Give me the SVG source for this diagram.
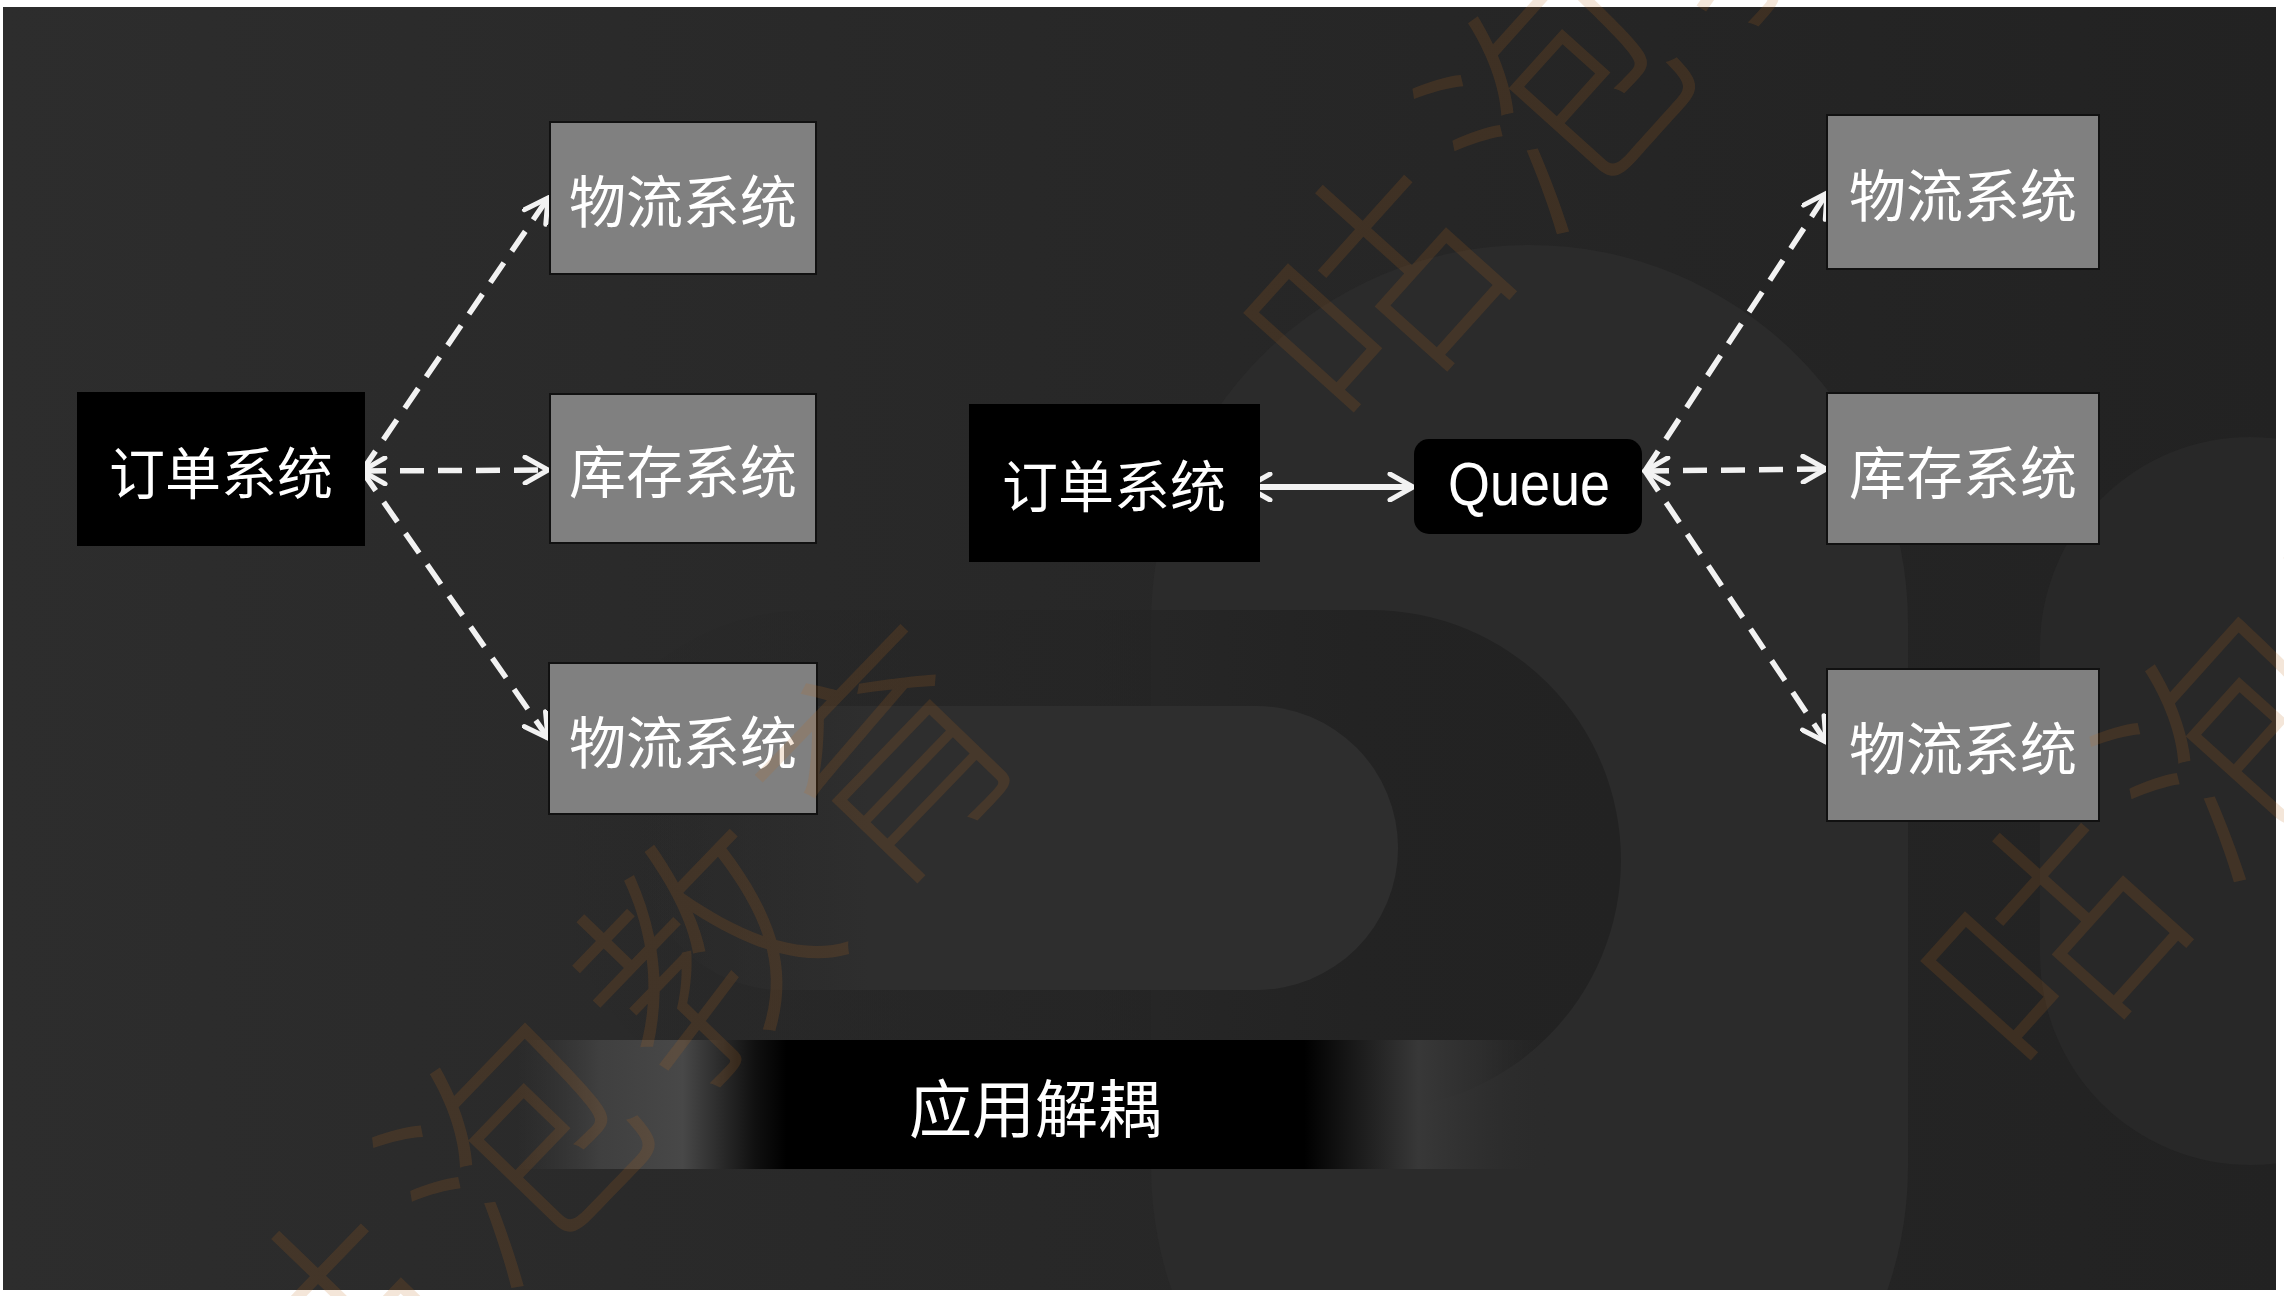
<svg xmlns="http://www.w3.org/2000/svg" width="2284" height="1296" viewBox="0 0 2284 1296">
<style>
.cjk{font-family:"Noto Sans CJK SC","Noto Sans",sans-serif;fill:#ffffff;text-anchor:middle;dominant-baseline:central}
.gray{fill:#808080;stroke:#111111;stroke-width:2}
.black{fill:#000000}
.dash{fill:none;stroke:#f2f2f2;stroke-width:5.5;stroke-dasharray:24 14}
.solid{fill:none;stroke:#f2f2f2;stroke-width:6}
.wm{font-family:"Noto Sans CJK SC",sans-serif;font-size:240px;font-weight:300;fill:#c06a20;fill-opacity:0.17;letter-spacing:30px;dominant-baseline:central}
</style>
<defs>
<linearGradient id="bg" x1="0" y1="0" x2="2284" y2="0" gradientUnits="userSpaceOnUse">
<stop offset="0" stop-color="#2d2d2d"/>
<stop offset="0.45" stop-color="#282828"/>
<stop offset="1" stop-color="#222222"/>
</linearGradient>
<linearGradient id="bar" x1="517" y1="0" x2="1553" y2="0" gradientUnits="userSpaceOnUse">
<stop offset="0" stop-color="#3a3a3a" stop-opacity="0"/>
<stop offset="0.08" stop-color="#454545" stop-opacity="0.8"/>
<stop offset="0.16" stop-color="#484848"/>
<stop offset="0.23" stop-color="#101010"/>
<stop offset="0.26" stop-color="#000000"/>
<stop offset="0.76" stop-color="#000000"/>
<stop offset="0.80" stop-color="#151515"/>
<stop offset="0.87" stop-color="#383838"/>
<stop offset="0.93" stop-color="#303030" stop-opacity="0.8"/>
<stop offset="1" stop-color="#2a2a2a" stop-opacity="0"/>
</linearGradient>
<linearGradient id="pillg" x1="641" y1="0" x2="1398" y2="0" gradientUnits="userSpaceOnUse">
<stop offset="0" stop-color="#2e2e2e" stop-opacity="0"/>
<stop offset="0.3" stop-color="#2e2e2e"/>
<stop offset="1" stop-color="#2e2e2e"/>
</linearGradient>
<linearGradient id="dg" x1="560" y1="0" x2="1621" y2="0" gradientUnits="userSpaceOnUse">
<stop offset="0" stop-color="#232323" stop-opacity="0"/>
<stop offset="0.5" stop-color="#232323" stop-opacity="0.5"/>
<stop offset="0.75" stop-color="#232323"/>
<stop offset="1" stop-color="#222222"/>
</linearGradient>
<clipPath id="area"><rect x="3" y="7" width="2273" height="1283"/></clipPath>
<marker id="chev" viewBox="0 0 30 30" refX="27" refY="15" markerWidth="30" markerHeight="30" markerUnits="userSpaceOnUse" orient="auto-start-reverse">
<path d="M4,2 L27,15 L4,28" fill="none" stroke="#f2f2f2" stroke-width="5" stroke-dasharray="none" stroke-linecap="round" stroke-linejoin="miter"/>
</marker>
</defs>

<rect x="0" y="0" width="2284" height="1296" fill="#ffffff"/>
<g id="background" clip-path="url(#area)">
<rect x="3" y="7" width="2273" height="1283" fill="url(#bg)"/>
<rect x="1151" y="245" width="757" height="1300" rx="378" fill="#2b2b2b"/>
<rect x="560" y="610" width="1061" height="500" rx="250" fill="url(#dg)"/>
<rect x="641" y="706" width="757" height="284" rx="142" fill="url(#pillg)"/>
<rect x="2040" y="437" width="420" height="728" rx="210" fill="#282828"/>
<rect x="517" y="1040" width="1036" height="129" fill="url(#bar)"/>
</g>

<g id="connectors">
<line class="dash" x1="362" y1="471" x2="548" y2="198" marker-end="url(#chev)"/>
<line class="dash" x1="362" y1="471" x2="548" y2="470" marker-start="url(#chev)" marker-end="url(#chev)"/>
<line class="dash" x1="362" y1="471" x2="548" y2="738" marker-end="url(#chev)"/>
<line class="solid" x1="1247" y1="487" x2="1413" y2="487" marker-start="url(#chev)" marker-end="url(#chev)"/>
<line class="dash" x1="1645" y1="471" x2="1827" y2="193" marker-end="url(#chev)"/>
<line class="dash" x1="1645" y1="471" x2="1826" y2="469" marker-start="url(#chev)" marker-end="url(#chev)"/>
<line class="dash" x1="1645" y1="471" x2="1826" y2="742" marker-end="url(#chev)"/>
</g>

<g id="order-left"><rect class="black" x="77" y="392" width="288" height="154"/><text class="cjk" x="221" y="469" font-size="56">订单系统</text></g>
<g id="logistics-left-top"><rect class="gray" x="550" y="122" width="266" height="152"/><text class="cjk" x="683" y="198" font-size="57">物流系统</text></g>
<g id="stock-left"><rect class="gray" x="550" y="394" width="266" height="149"/><text class="cjk" x="683" y="468" font-size="57">库存系统</text></g>
<g id="logistics-left-bottom"><rect class="gray" x="549" y="663" width="268" height="151"/><text class="cjk" x="683" y="739" font-size="57">物流系统</text></g>

<g id="order-right"><rect class="black" x="969" y="404" width="291" height="158"/><text class="cjk" x="1114" y="482" font-size="56">订单系统</text></g>
<g id="queue"><rect class="black" x="1414" y="439" width="228" height="95" rx="15"/><text x="1529" y="505" font-family="Liberation Sans, Arial, sans-serif" font-size="62" fill="#ffffff" text-anchor="middle" textLength="162" lengthAdjust="spacingAndGlyphs">Queue</text></g>
<g id="logistics-right-top"><rect class="gray" x="1827" y="115" width="272" height="154"/><text class="cjk" x="1963" y="192" font-size="57">物流系统</text></g>
<g id="stock-right"><rect class="gray" x="1827" y="393" width="272" height="151"/><text class="cjk" x="1963" y="469" font-size="57">库存系统</text></g>
<g id="logistics-right-bottom"><rect class="gray" x="1827" y="669" width="272" height="152"/><text class="cjk" x="1963" y="745" font-size="57">物流系统</text></g>

<g id="title"><text class="cjk" x="1035" y="1104" font-size="63">应用解耦</text></g>

<g id="watermarks">
<text class="wm" transform="translate(1362,284) rotate(-48)" x="-120" y="0">咕泡教育</text>
<text class="wm" transform="translate(315,1331) rotate(-46)" x="-120" y="0">咕泡教育</text>
<text class="wm" transform="translate(2039,932) rotate(-48)" x="-120" y="0">咕泡教育</text>
</g>
</svg>
